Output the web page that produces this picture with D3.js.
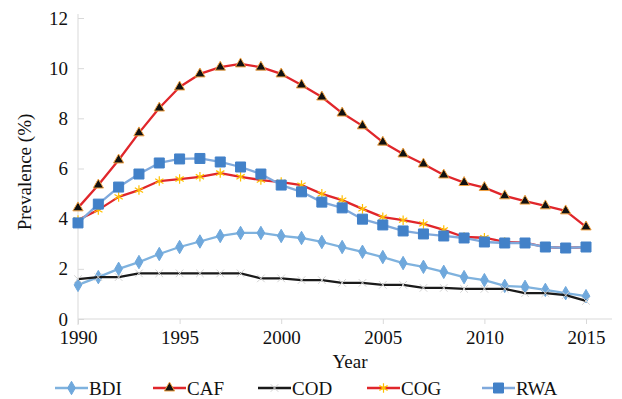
<!DOCTYPE html>
<html>
<head>
<meta charset="utf-8">
<script src="https://cdn.jsdelivr.net/npm/d3@7"></script>
<style>
  body { margin: 0; background: #fff; }
  .axis path, .axis line { stroke: #d9d9d9; }
</style>
</head>
<body>
<svg class="chart-frame"></svg>
<script>
const years = d3.range(1990, 2016);
const yTicks = [0, 2, 4, 6, 8, 10, 12];
const xTicks = [1990, 1995, 2000, 2005, 2010, 2015];

const bdi = [1.36, 1.67, 2.0, 2.27, 2.59, 2.87, 3.09, 3.31, 3.43, 3.43, 3.31, 3.23, 3.07,
  2.87, 2.68, 2.47, 2.23, 2.08, 1.88, 1.67, 1.55, 1.32, 1.28, 1.16, 1.03, 0.91];
const caf = [4.43, 5.34, 6.34, 7.42, 8.41, 9.25, 9.77, 10.04, 10.17, 10.04, 9.77, 9.33, 8.85,
  8.21, 7.7, 7.05, 6.58, 6.18, 5.74, 5.44, 5.24, 4.91, 4.7, 4.51, 4.31, 3.67];
const cod = [1.59, 1.67, 1.67, 1.82, 1.82, 1.82, 1.82, 1.82, 1.82, 1.62, 1.62, 1.55, 1.55,
  1.44, 1.44, 1.36, 1.36, 1.24, 1.24, 1.2, 1.2, 1.2, 1.03, 1.03, 0.95, 0.72];
const cog = [3.95, 4.35, 4.87, 5.14, 5.5, 5.58, 5.67, 5.82, 5.67, 5.54, 5.46, 5.34, 4.99,
  4.74, 4.39, 4.06, 3.94, 3.79, 3.55, 3.27, 3.24, 3.07, 3.04, 2.87, 2.83, 2.87];
const rwa = [3.83, 4.58, 5.26, 5.78, 6.22, 6.38, 6.4, 6.26, 6.06, 5.78, 5.34, 5.07, 4.66,
  4.43, 3.98, 3.75, 3.51, 3.39, 3.31, 3.23, 3.07, 3.03, 3.03, 2.87, 2.83, 2.87];

const seriesNames = ["BDI", "CAF", "COD", "COG", "RWA"];
const seriesValues = [bdi, caf, cod, cog, rwa];

const serif = "'Liberation Serif', 'DejaVu Serif', 'Times New Roman', serif";
const symTimes = d3.symbolTimes || d3.symbolX || d3.symbolCross;
const styles = {
  BDI: {line: "#7fb2de", symbol: d3.symbolDiamond, size: 52, fill: "#6fa8dc", stroke: "#6fa8dc", sw: 1},
  CAF: {line: "#e0262b", symbol: d3.symbolTriangle, size: 46, fill: "#111", stroke: "#f0a040", sw: 1},
  COD: {line: "#1a1a1a", symbol: symTimes, size: 40, fill: "none", stroke: "#d4d4d4", sw: 1},
  COG: {line: "#e0262b", symbol: d3.symbolAsterisk, size: 64, fill: "none", stroke: "#ffc000", sw: 1.2},
  RWA: {line: "#7fa9dc", symbol: d3.symbolSquare, size: 100, fill: "#4281c8", stroke: "#4281c8", sw: 1}
};

const width = 622, height = 399;
const svg = d3.select(".chart-frame")
  .attr("width", width)
  .attr("height", height);

const xScale = d3.scaleLinear().domain([1990, 2015]).range([78, 586]);
const yScale = d3.scaleLinear().domain([0, 12]).range([319, 18]);

// y axis
const yAxis = d3.axisLeft(yScale).tickValues(yTicks).tickSizeInner(-6).tickSizeOuter(0).tickPadding(10);
const gy = svg.append("g").attr("class", "axis")
  .attr("transform", "translate(78,0)")
  .call(yAxis);
gy.select(".domain").remove();
gy.append("line").attr("y1", yScale(12) - 4).attr("y2", yScale(0) + 6).attr("stroke", "#d9d9d9");

// x axis
const xAxis = d3.axisBottom(xScale).tickValues(xTicks).tickFormat(d3.format("d"))
  .tickSizeInner(5).tickSizeOuter(0).tickPadding(7);
const gx = svg.append("g").attr("class", "axis")
  .attr("transform", "translate(0," + yScale(0) + ")")
  .call(xAxis);
gx.select(".domain").remove();
gx.append("line").attr("x1", 78).attr("x2", 612).attr("stroke", "#d9d9d9");

// titles
svg.append("text")
  .attr("transform", "translate(31,172) rotate(-90)")
  .attr("text-anchor", "middle")
  .text("Prevalence (%)");

svg.append("text")
  .attr("x", 350).attr("y", 368)
  .attr("text-anchor", "middle")
  .text("Year");

// lines and markers
const line = d3.line()
  .x((d, i) => xScale(years[i]))
  .y(d => yScale(d));

seriesNames.forEach((name, k) => {
  const s = styles[name];
  const vals = seriesValues[k];
  svg.append("path")
    .datum(vals)
    .attr("fill", "none")
    .attr("stroke", s.line)
    .attr("stroke-width", 2.3)
    .attr("stroke-linejoin", "round")
    .attr("d", line);

  svg.selectAll(".mk-" + name)
    .data(vals)
    .enter().append("path")
    .attr("class", "mk-" + name)
    .attr("transform", (d, i) => "translate(" + xScale(years[i]) + "," + yScale(d) + ")")
    .attr("d", d3.symbol().type(s.symbol).size(s.size))
    .attr("fill", s.fill)
    .attr("stroke", s.stroke)
    .attr("stroke-width", s.sw);
});

// legend
const legendX = [55, 153, 258, 367, 482];
const legend = svg.append("g").attr("class", "legend");
seriesNames.forEach((name, k) => {
  const s = styles[name];
  const g = legend.append("g").attr("transform", "translate(" + legendX[k] + ",388)");
  g.append("line").attr("x1", 0).attr("x2", 33)
    .attr("stroke", s.line).attr("stroke-width", 2.3);
  g.append("path")
    .attr("transform", "translate(16.5,0)")
    .attr("d", d3.symbol().type(s.symbol).size(s.size))
    .attr("fill", s.fill)
    .attr("stroke", s.stroke)
    .attr("stroke-width", s.sw);
  g.append("text")
    .attr("x", 34).attr("y", 0).attr("dy", "0.35em")
    .text(name);
});

svg.selectAll("text")
  .style("font-family", serif)
  .style("font-size", "19px")
  .style("fill", "#111");
</script>
</body>
</html>
